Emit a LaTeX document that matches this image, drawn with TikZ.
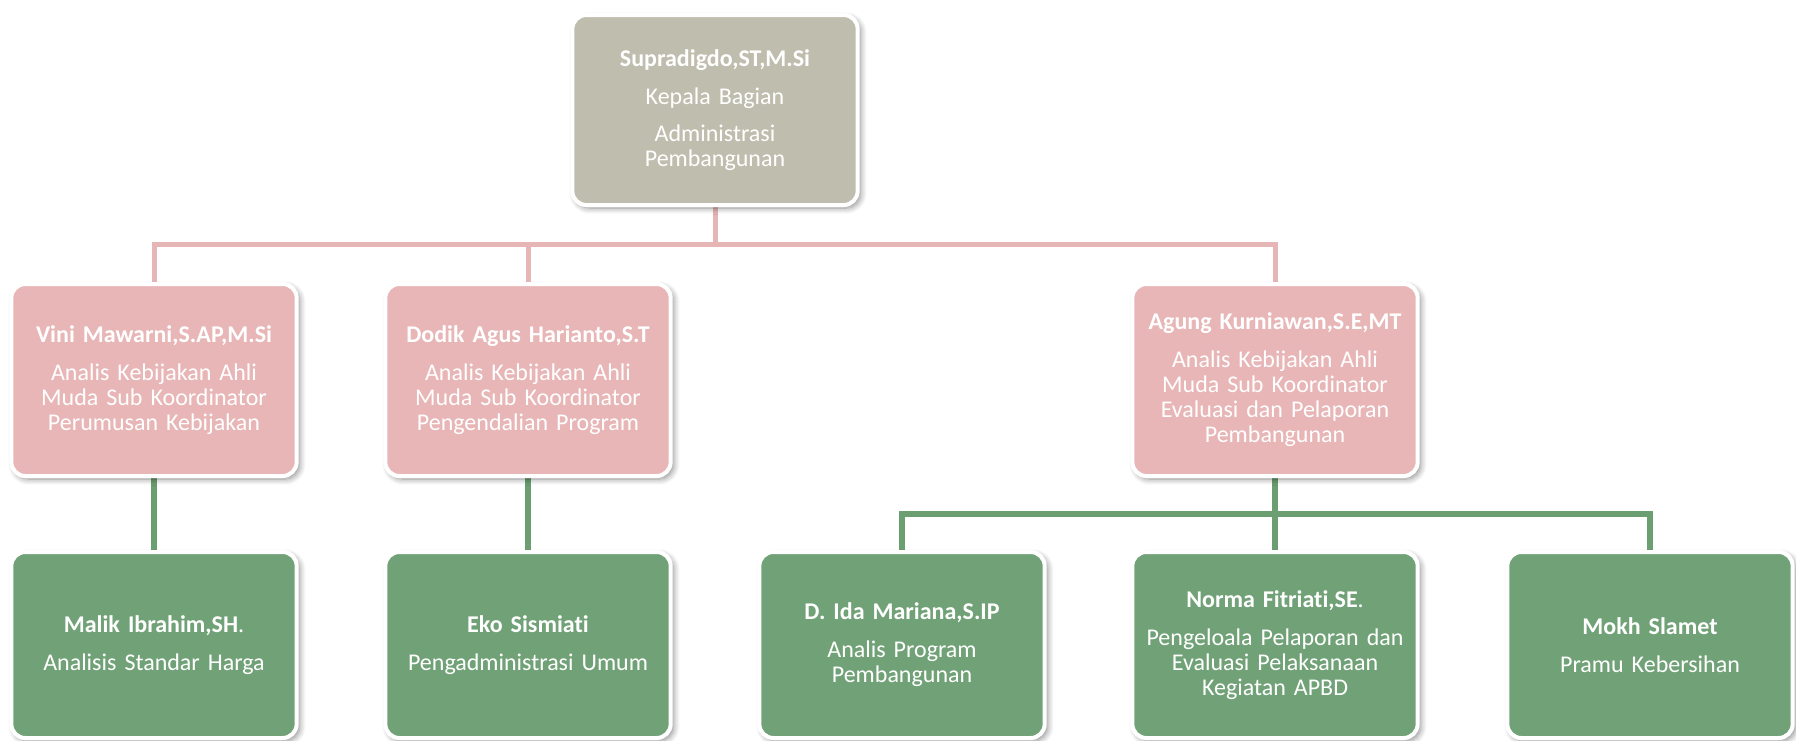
\documentclass[tikz,border=0pt]{standalone}
\usepackage{fontspec}
\setmainfont{Carlito}[Ligatures=NoCommon]
\usetikzlibrary{calc,shadows.blur,backgrounds}
\definecolor{Head}{HTML}{BFBDAE}
\definecolor{Rose}{HTML}{E8B6B7}
\definecolor{Sage}{HTML}{71A277}
\definecolor{RoseLine}{HTML}{E6B5B6}
\definecolor{SageLine}{HTML}{6B9E71}
\tikzset{
  unit/.style={draw=white,line width=2pt,rounded corners=7pt,minimum width=142pt,text width=136pt,align=center,text=white,font=\fontsize{12}{12.5}\selectfont,blur shadow={shadow xshift=1.5pt,shadow yshift=-1.5pt,shadow blur radius=3pt,shadow blur steps=8,shadow opacity=45}},
  unithead/.style={unit,fill=Head,minimum height=95pt},
  unitrose/.style={unit,fill=Rose,minimum height=96pt},
  unitsage/.style={unit,fill=Sage,minimum height=93pt},
  roseLink/.style={draw=RoseLine,line width=2.5pt},
  sageLink/.style={draw=SageLine,line width=3pt}
}
\newcommand{\nm}[1]{\textbf{#1}\\[6.5pt]}

\begin{document}
\begin{tikzpicture}[x=0.5pt,y=-0.5pt]
\useasboundingbox (0,0) rectangle (1796,740);
\node[unithead] (kabag) at (715,110) {\nm{Supradigdo,ST,M.Si}Kepala Bagian\\[6pt]Administrasi\\Pembangunan};
\node[unitrose] (vini) at (154,380) {\nm{Vini Mawarni,S.AP,M.Si}Analis Kebijakan Ahli\\Muda Sub Koordinator\\Perumusan Kebijakan};
\node[unitrose] (dodik) at (528,380) {\nm{Dodik Agus Harianto,S.T}Analis Kebijakan Ahli\\Muda Sub Koordinator\\Pengendalian Program};
\node[unitrose] (agung) at (1275,380) {\nm{Agung Kurniawan,S.E,MT}Analis Kebijakan Ahli\\Muda Sub Koordinator\\Evaluasi dan Pelaporan\\Pembangunan};
\node[unitsage] (malik) at (154,645) {\textbf{Malik Ibrahim,SH}.\\[6.5pt]Analisis Standar Harga};
\node[unitsage] (eko) at (528,645) {\nm{Eko Sismiati}Pengadministrasi Umum};
\node[unitsage] (ida) at (902,645) {\nm{D. Ida Mariana,S.IP}Analis Program\\Pembangunan};
\node[unitsage] (norma) at (1275,645) {\textbf{Norma Fitriati,SE}.\\[6.5pt]Pengeloala Pelaporan dan\\Evaluasi Pelaksanaan\\Kegiatan APBD};
\node[unitsage] (mokh) at (1650,645) {\nm{Mokh Slamet}Pramu Kebersihan};
\begin{scope}[on background layer]
\coordinate (busA) at ($(kabag.south)!0.5!(kabag.south |- vini.north)$);
\draw[roseLink] (kabag.south) -- (busA) -| (vini.north);
\draw[roseLink] (busA) -| (dodik.north);
\draw[roseLink] (busA) -| (agung.north);
\draw[sageLink] (vini.south) -- (malik.north);
\draw[sageLink] (dodik.south) -- (eko.north);
\coordinate (busB) at ($(agung.south)!0.5!(agung.south |- norma.north)$);
\draw[sageLink] (agung.south) -- (busB) -| (ida.north);
\draw[sageLink] (busB) -| (mokh.north);
\draw[sageLink] (busB) -- (norma.north);
\end{scope}
\end{tikzpicture}
\end{document}
